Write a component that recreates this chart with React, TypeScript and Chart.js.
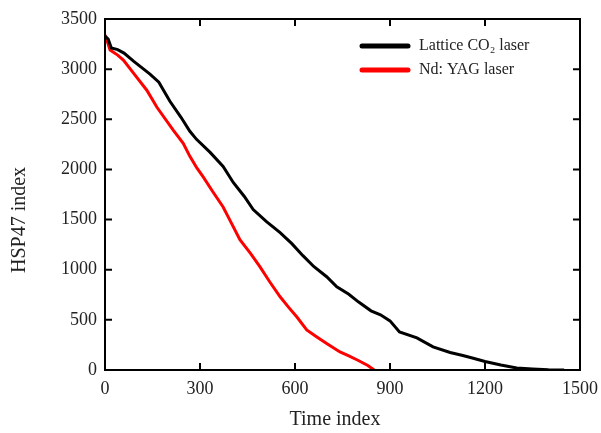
import React, { useEffect, useRef } from "react";
import { Chart, registerables } from "chart.js";

Chart.register(...registerables);

const co2Time = [0, 10, 20, 40, 60, 90, 110, 142, 170, 205, 240, 268, 289, 332, 373, 405, 440, 468, 510, 553, 590, 625, 660, 700, 732, 770, 800, 840, 870, 900, 930, 985, 1036, 1090, 1130, 1160, 1200, 1250, 1300, 1350, 1400, 1450];
const co2Values = [3330, 3300, 3210, 3195, 3160, 3080, 3030, 2950, 2870, 2680, 2520, 2380, 2300, 2170, 2030, 1870, 1730, 1600, 1480, 1370, 1260, 1140, 1030, 930, 830, 755, 680, 590, 550, 490, 380, 320, 230, 175, 145, 120, 85, 50, 20, 10, 3, 0];

const yagTime = [0, 10, 16, 40, 58, 90, 132, 164, 216, 247, 268, 290, 310, 340, 373, 400, 426, 460, 489, 520, 553, 580, 606, 637, 669, 700, 742, 770, 800, 830, 850];
const yagValues = [3340, 3250, 3190, 3140, 3090, 2960, 2790, 2620, 2390, 2260, 2130, 2015, 1925, 1780, 1625, 1460, 1300, 1160, 1030, 880, 730, 625, 528, 400, 330, 265, 180, 140, 95, 45, 0];

const xTicks = [0, 300, 600, 900, 1200, 1500];
const yTicks = [0, 500, 1000, 1500, 2000, 2500, 3000, 3500];

const seriesLabels = ["Lattice CO\u2082 laser", "Nd: YAG laser"];
const seriesColors = ["#000000", "#ff0000"];
const xTitle = "Time index";
const yTitle = "HSP47 index";

const FONT = "'Liberation Serif', 'Times New Roman', serif";

const framePlugin = {
  id: "framePlugin",
  afterDraw(chart: any) {
    const { ctx, chartArea } = chart;
    const { left, right, top, bottom } = chartArea;
    const xs = chart.scales.x;
    const ys = chart.scales.y;
    ctx.save();
    ctx.strokeStyle = "#000";
    ctx.lineWidth = 2;
    ctx.strokeRect(left, top, right - left, bottom - top);
    const tl = 7;
    ctx.beginPath();
    xTicks.forEach((t) => {
      const px = xs.getPixelForValue(t);
      ctx.moveTo(px, bottom);
      ctx.lineTo(px, bottom - tl);
      ctx.moveTo(px, top);
      ctx.lineTo(px, top + tl);
    });
    yTicks.forEach((v) => {
      const py = ys.getPixelForValue(v);
      ctx.moveTo(left, py);
      ctx.lineTo(left + tl, py);
      ctx.moveTo(right, py);
      ctx.lineTo(right - tl, py);
    });
    ctx.stroke();

    // legend
    ctx.font = `16px ${FONT}`;
    ctx.textBaseline = "middle";
    ctx.textAlign = "left";
    const lx0 = 362;
    const lx1 = 408;
    const ly = [46, 70];
    seriesLabels.forEach((lab, i) => {
      ctx.strokeStyle = seriesColors[i];
      ctx.lineWidth = 5;
      ctx.lineCap = "round";
      ctx.beginPath();
      ctx.moveTo(lx0, ly[i]);
      ctx.lineTo(lx1, ly[i]);
      ctx.stroke();
      ctx.fillStyle = "#222";
      ctx.fillText(lab, 419, ly[i]);
    });

    // axis titles
    ctx.fillStyle = "#222";
    ctx.font = `20px ${FONT}`;
    ctx.textAlign = "center";
    ctx.textBaseline = "middle";
    ctx.fillText(xTitle, 335, 420);
    ctx.save();
    ctx.translate(20, 220);
    ctx.rotate(-Math.PI / 2);
    ctx.fillText(yTitle, 0, 0);
    ctx.restore();
    ctx.restore();
  },
};

export default function App() {
  const ref = useRef<HTMLCanvasElement | null>(null);
  useEffect(() => {
    if (!ref.current) return;
    const chart = new Chart(ref.current, {
      type: "line",
      data: {
        datasets: [
          {
            label: seriesLabels[0],
            data: co2Time.map((t, i) => ({ x: t, y: co2Values[i] })),
            borderColor: seriesColors[0],
            borderWidth: 3,
            pointRadius: 0,
            tension: 0,
          },
          {
            label: seriesLabels[1],
            data: yagTime.map((t, i) => ({ x: t, y: yagValues[i] })),
            borderColor: seriesColors[1],
            borderWidth: 3,
            pointRadius: 0,
            tension: 0,
          },
        ],
      },
      options: {
        animation: false,
        responsive: false,
        maintainAspectRatio: false,
        layout: { padding: { left: 0, top: 19, right: 21, bottom: 0 } },
        plugins: { legend: { display: false }, tooltip: { enabled: false } },
        scales: {
          x: {
            type: "linear",
            min: 0,
            max: 1500,
            grid: { display: false, drawTicks: false },
            border: { display: false },
            afterBuildTicks: (s: any) => {
              s.ticks = xTicks.map((v) => ({ value: v }));
            },
            afterFit: (s: any) => {
              s.height = 63;
              s.paddingLeft = 0;
              s.paddingRight = 0;
            },
            ticks: {
              padding: 8,
              color: "#222",
              font: { family: FONT, size: 18 },
              maxRotation: 0,
              callback: (v: any) => String(v),
            },
          },
          y: {
            type: "linear",
            min: 0,
            max: 3500,
            grid: { display: false, drawTicks: false },
            border: { display: false },
            afterBuildTicks: (s: any) => {
              s.ticks = yTicks.map((v) => ({ value: v }));
            },
            afterFit: (s: any) => {
              s.width = 105;
              s.paddingTop = 0;
              s.paddingBottom = 0;
            },
            ticks: {
              padding: 8,
              color: "#222",
              font: { family: FONT, size: 18 },
              callback: (v: any) => String(v),
            },
          },
        },
      },
      plugins: [framePlugin],
    });
    return () => chart.destroy();
  }, []);
  return (
    <div style={{ position: "fixed", left: 0, top: 0, width: 601, height: 433, background: "#fff" }}>
      <canvas ref={ref} width={601} height={433} style={{ width: 601, height: 433 }} />
    </div>
  );
}
